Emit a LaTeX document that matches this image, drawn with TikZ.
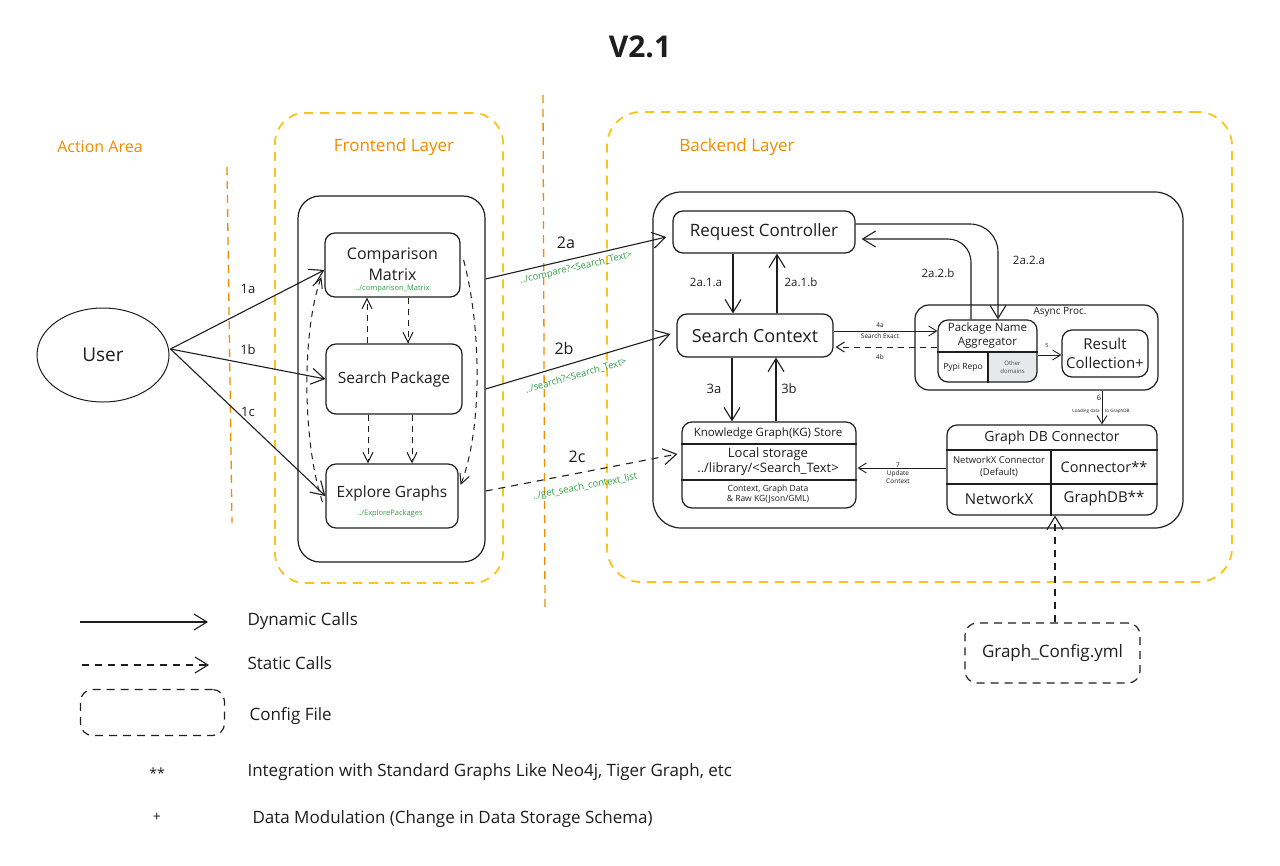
\documentclass[tikz,border=0pt]{standalone}
\usepackage{fontspec}
\setmainfont{Open Sans}
\usetikzlibrary{arrows.meta,shapes.geometric}
\definecolor{orng}{RGB}{240,140,0}
\definecolor{ylw}{RGB}{252,196,25}
\definecolor{grn}{RGB}{47,158,68}
\definecolor{ink}{RGB}{30,30,30}
\definecolor{lgray}{RGB}{230,232,235}
\newcommand\fsz[2]{\fontsize{#1}{#2}\selectfont}
\tikzset{
  box/.style={draw=ink, line width=1.2pt, rounded corners=10pt, inner sep=0pt},
  ybox/.style={draw=ylw, line width=1.8pt, dash pattern=on 9pt off 7pt, rounded corners=30pt, inner sep=0pt},
  cfgbox/.style={draw=ink, line width=1.2pt, dash pattern=on 8pt off 6pt, rounded corners=12pt, inner sep=0pt},
  sep/.style={draw=orng, line width=1.3pt, dash pattern=on 8pt off 6pt},
  dyn/.style={draw=ink, line width=1.1pt, -{Straight Barb[length=13pt,width=16pt]}},
  dynS/.style={draw=ink, line width=0.9pt, -{Straight Barb[length=8pt,width=10pt]}},
  stat/.style={dyn, dash pattern=on 7pt off 6pt},
  statI/.style={draw=ink, line width=1pt, dash pattern=on 6pt off 5pt, -{Straight Barb[length=10pt,width=10pt]}},
  statS/.style={draw=ink, line width=1pt, dash pattern=on 6pt off 5pt, -{Straight Barb[length=8pt,width=10pt]}},
  divl/.style={draw=ink, line width=1.1pt},
  lbl/.style={font=\fsz{13}{15}, text=ink},
  lblB/.style={font=\fsz{16}{18}, text=ink, inner sep=1pt},
  lblS/.style={font=\fsz{11.5}{13}, text=ink},
  tiny/.style={font=\fsz{6.5}{7.5}, text=ink, align=center},
  grt/.style={text=grn, inner sep=0pt},
  hdr/.style={font=\fsz{17}{20}, text=orng},
  leg/.style={anchor=west, font=\fsz{17}{20}, text=ink},
}
\begin{document}
\begin{tikzpicture}[x=1pt,y=-1pt]
\useasboundingbox[fill=white] (0,0) rectangle (1280,865);

% ---------- titles ----------
\node[font=\fsz{30}{34}\bfseries, text=ink] (title) at (640,47) {V2.1};
\node[hdr, font=\fsz{16}{19}] (aa) at (100,147) {Action Area};
\node[hdr] (fl) at (394,147) {Frontend Layer};
\node[hdr] (bl) at (737,147) {Backend Layer};

% ---------- separators ----------
\draw[sep] (227,167) -- (232,523);
\draw[sep] (543,95) -- (545,610);

% ---------- containers ----------
\node[ybox, minimum width=228pt, minimum height=470pt] (fey) at (389,348) {};
\node[ybox, rounded corners=34pt, minimum width=625pt, minimum height=470pt] (bey) at (919.5,347) {};
\node[box, rounded corners=22pt, minimum width=187pt, minimum height=366pt] (fe) at (391.5,379) {};
\node[box, rounded corners=28pt, minimum width=530pt, minimum height=336pt] (be) at (918,360) {};

% ---------- user ----------
\node[draw=ink, line width=1pt, ellipse, minimum width=132pt, minimum height=94pt, font=\fsz{19}{22}, text=ink] (user) at (103,355) {User};

% ---------- frontend boxes ----------
\node[box, minimum width=135pt, minimum height=64pt] (cm) at (392.5,265) {};
\node[font=\fsz{16}{21}, align=center, text=ink] (cmt) at (392.5,264) {Comparison\\Matrix};
\node[grt, font=\fsz{7.5}{9}] (cmg) at (392.5,289) {../comparison\_Matrix};
\node[box, minimum width=136pt, minimum height=70pt, font=\fsz{15.5}{18}, text=ink] (sp) at (394,379) {Search Package};
\node[box, minimum width=132pt, minimum height=64pt] (eg) at (392,496) {};
\node[font=\fsz{15.5}{18}, text=ink] (egt) at (392,493) {Explore Graphs};
\node[grt, font=\fsz{7.5}{9}] (egg) at (390,514) {../ExplorePackages};

% ---------- backend boxes ----------
\node[box, minimum width=182pt, minimum height=42pt, font=\fsz{17}{20}, text=ink] (rc) at (764,232) {Request Controller};
\node[box, minimum width=156pt, minimum height=43pt, font=\fsz{18}{21}, text=ink] (sc) at (755,335.5) {Search Context};

% knowledge graph store
\node[box, minimum width=174pt, minimum height=86pt] (kg) at (769,465) {};
\draw[divl] (kg.west |- 0,444) -- (kg.east |- 0,444);
\draw[divl] (kg.west |- 0,480) -- (kg.east |- 0,480);
\node[font=\fsz{11.5}{13}, text=ink] (kgh) at (768,434) {Knowledge Graph(KG) Store};
\node[font=\fsz{13}{15}, align=center, text=ink] (kgl) at (768,462) {Local storage\\../library/<Search\_Text>};
\node[font=\fsz{8.5}{9.5}, align=center, text=ink] (kgc) at (768,494) {Context, Graph Data\\\& Raw KG(Json/GML)};

% async proc
\begin{scope}
  \clip[rounded corners=10pt] (938,320) rectangle (1037,382);
  \fill[lgray] (988,352) rectangle (1037,382);
\end{scope}
\node[box, rounded corners=14pt, minimum width=243pt, minimum height=85pt] (async) at (1036.5,347.5) {};
\node[font=\fsz{10}{12}, text=ink] (asyt) at (1060,312) {Async Proc.};
\node[box, minimum width=99pt, minimum height=62pt] (pna) at (987.5,351) {};
\draw[divl] (pna.west |- 0,352) -- (pna.east |- 0,352);
\draw[divl] (988,352) -- (pna.south -| 988,0);
\node[font=\fsz{11.5}{14}, align=center, text=ink] (pnat) at (987.5,335.5) {Package Name\\Aggregator};
\node[font=\fsz{8.5}{10}, text=ink] (pypi) at (963,367) {Pypi Repo};
\node[font=\fsz{6}{8}, align=center, text=ink!80] (oth) at (1012.5,367) {Other\\domains};
\node[box, minimum width=86pt, minimum height=47pt, font=\fsz{15}{19}, align=center, text=ink] (res) at (1105,353.5) {Result\\Collection+};

% graph db connector
\node[box, minimum width=210pt, minimum height=90pt] (gdb) at (1052,470) {};
\draw[divl] (gdb.west |- 0,450) -- (gdb.east |- 0,450);
\draw[divl] (gdb.west |- 0,484) -- (gdb.east |- 0,484);
\draw[divl] (1051,450) -- (gdb.south -| 1051,0);
\node[font=\fsz{14}{16}, text=ink] (gdbh) at (1052,437.5) {Graph DB Connector};
\node[font=\fsz{9.5}{12}, align=center, text=ink] (nxc) at (999,467) {NetworkX Connector\\(Default)};
\node[font=\fsz{14.5}{16}, text=ink] (conn) at (1104,467) {Connector**};
\node[font=\fsz{15}{17}, text=ink] (nx) at (999,499) {NetworkX};
\node[font=\fsz{15}{17}, text=ink] (gdbx) at (1104,499) {GraphDB**};

% config file
\node[cfgbox, minimum width=175pt, minimum height=60pt, font=\fsz{17}{20}, text=ink] (cfg) at (1052.5,653) {Graph\_Config.yml};

% ---------- user arrows ----------
\coordinate (u) at ([xshift=1pt,yshift=6pt]user.east);
\draw[dyn] (u) -- ([yshift=-5pt]cm.west);
\draw[dyn] (u) -- (sp.west);
\draw[dyn] (u) -- (eg.west);
\node[lbl] (l1a) at (248,289) {1a};
\node[lbl] (l1b) at (248,350) {1b};
\node[lbl] (l1c) at (248,412) {1c};

% ---------- frontend internal ----------
\draw[statI] ([xshift=15.5pt]cm.south) -- ([xshift=14pt]sp.north);
\draw[statI] ([xshift=-27pt]sp.north) -- ([xshift=-25.5pt]cm.south);
\draw[statI] ([xshift=18pt]sp.south) -- ([xshift=20pt]eg.north);
\draw[statI] ([xshift=-26pt]sp.south) -- ([xshift=-24pt]eg.north);
\draw[statI] ([xshift=3pt,yshift=5pt]cm.east) .. controls (482,330) and (482,430) .. ([xshift=2pt,yshift=11pt]eg.east);
\draw[statI] ([xshift=-3pt,yshift=-6pt]eg.west) .. controls (302,440) and (302,330) .. ([xshift=-3pt,yshift=-12pt]cm.west);

% ---------- frontend to backend ----------
\draw[dyn] ([yshift=100pt]fe.east) -- ([xshift=-6pt,yshift=-5pt]rc.west);
\draw[dyn] ([yshift=-10pt]fe.east) -- ([xshift=-6pt,yshift=1.5pt]sc.west);
\draw[stat] ([yshift=-112pt]fe.east) -- ([xshift=-4pt,yshift=11pt]kg.west);
\node[lblB] (l2a) at (566,243) {2a};
\node[lblB] (l2b) at (564,348) {2b};
\node[lblB] (l2c) at (577,457) {2c};
\node[grt, font=\fsz{9.5}{11}, rotate=13] (g2a) at (576,268) {../compare?<Search\_Text>};
\node[grt, font=\fsz{9.5}{11}, rotate=16] (g2b) at (576,376) {../search?<Search\_Text>};
\node[grt, font=\fsz{9.5}{11}, rotate=11] (g2c) at (585,487) {../get\_seach\_context\_list};

% ---------- backend internal ----------
\draw[dyn] ([xshift=-31pt]rc.south) -- ([xshift=-22pt]sc.north);
\draw[dyn] ([xshift=22pt]sc.north) -- ([xshift=13pt]rc.south);
\node[lblS] (l21a) at (706,282) {2a.1.a};
\node[lblS] (l21b) at (801,282) {2a.1.b};
\draw[dyn] ([xshift=-23pt]sc.south) -- ([xshift=-37pt]kg.north);
\draw[dyn] ([xshift=7pt]kg.north) -- ([xshift=21pt]sc.south);
\node[lbl] (l3a) at (714,389) {3a};
\node[lbl] (l3b) at (789,389) {3b};

\draw[dyn] ([yshift=8pt]rc.east) -- (970,224) to[out=0,in=90] (998,252) -- ([xshift=10.5pt]pna.north);
\draw[dyn] ([xshift=-16.5pt]pna.north) -- (971,262) to[out=90,in=0] (948,239) -- ([xshift=6pt,yshift=-7pt]rc.east);
\node[lblS] (l22a) at (1029,260) {2a.2.a};
\node[lblS] (l22b) at (938,273) {2a.2.b};

\draw[dynS] ([yshift=4.5pt]sc.east) -- ([yshift=20pt]pna.west);
\draw[statS] ([yshift=4pt]pna.west) -- ([xshift=2pt,yshift=-11.5pt]sc.east);
\node[tiny] (l4a) at (880,325) {4a};
\node[tiny] (l4s) at (880,336.5) {Search Exact};
\node[tiny] (l4b) at (880,357) {4b};

\draw[dynS] ([yshift=-4pt]pna.east) -- ([yshift=-1.5pt]res.west);
\node[tiny, font=\fsz{5.5}{6}] (l5) at (1047,346) {5};

\draw[dynS] ([xshift=65.5pt]async.south) -- ([xshift=50pt]gdb.north);
\node[tiny, font=\fsz{7.5}{8}] (l6) at (1099,398) {6};
\node[tiny, font=\fsz{4.5}{5}] (l6t) at (1101,411) {Loading data\hspace{4pt} to GraphDB};

\draw[dynS] ([yshift=2pt]gdb.west) -- ([xshift=1pt,yshift=-3pt]kg.east);
\node[tiny, font=\fsz{6.5}{8}] (l7) at (898,473) {7\\Update\\Context};

\draw[stat] ([xshift=2.5pt]cfg.north) -- ([xshift=3pt]gdb.south);

% ---------- legend ----------
\coordinate (lg1a) at (80,622);
\coordinate (lg1b) at (208,622);
\draw[dyn] (lg1a) -- (lg1b);
\node[leg] (lgt1) at (244,621) {Dynamic Calls};
\coordinate (lg2a) at (82,665);
\coordinate (lg2b) at (209,665);
\draw[stat] (lg2a) -- (lg2b);
\node[leg] (lgt2) at (244,663) {Static Calls};
\node[cfgbox, minimum width=144pt, minimum height=46pt] (lg3) at (152.5,712.5) {};
\node[leg] (lgt3) at (246,716) {Config File};
\node[font=\fsz{14}{16}, text=ink] (lg4) at (157,773) {**};
\node[leg] (lgt4) at (244,772) {Integration with Standard Graphs Like Neo4j, Tiger Graph, etc};
\node[font=\fsz{14}{16}, text=ink] (lg5) at (157,817) {+};
\node[leg] (lgt5) at (249,819) {Data Modulation (Change in Data Storage Schema)};
\end{tikzpicture}
\end{document}
